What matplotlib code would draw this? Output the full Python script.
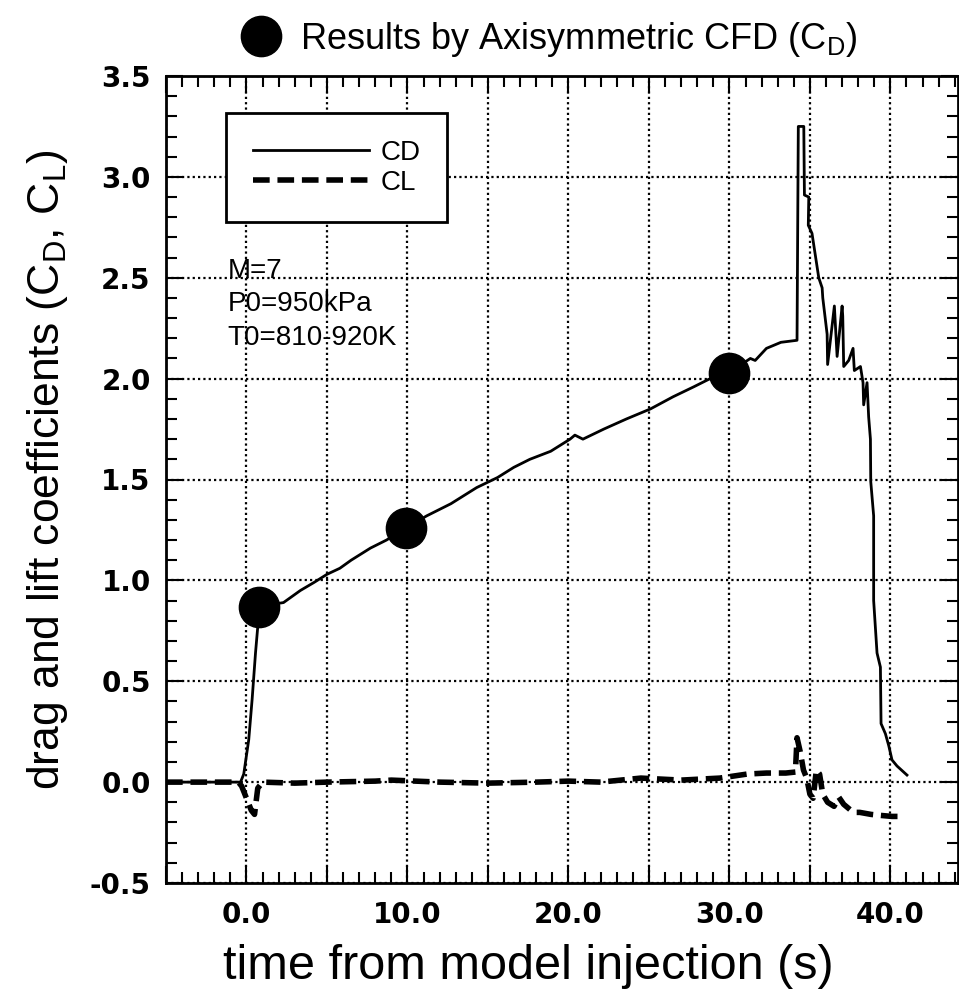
import matplotlib

matplotlib.use("Agg")
import matplotlib.pyplot as plt
import numpy as np
from matplotlib.lines import Line2D
from matplotlib.ticker import MultipleLocator

plt.rcParams["font.family"] = ["Liberation Sans", "DejaVu Sans"]
plt.rcParams["mathtext.fontset"] = "custom"
plt.rcParams["mathtext.rm"] = "Liberation Sans"
plt.rcParams["mathtext.it"] = "Liberation Sans:italic"

# drag coefficient trace (time s, CD)
cd_t = [-5.0, -0.37, -0.17, 0.14, 0.35, 0.56, 0.70, 0.75, 2.3, 3.35, 4.2, 5.0,
        5.8, 6.5, 7.7, 8.7, 9.9, 11.2, 12.7, 14.3, 15.6, 16.6, 17.6, 18.9, 20.1,
        20.4, 20.9, 22.2, 23.6, 25.1, 26.5, 27.8, 28.8, 30.0, 31.3, 31.6, 32.3,
        33.2, 34.2, 34.28, 34.62, 34.66, 34.93, 34.9, 35.13, 35.34, 35.55, 35.76,
        35.8, 36.07, 36.1, 36.52, 36.69, 37.0, 37.04, 37.1, 37.41, 37.68, 37.76,
        38.14, 38.3, 38.34, 38.55, 38.65, 38.76, 38.78, 38.96, 38.96, 39.17,
        39.38, 39.42, 39.69, 39.9, 40.1, 40.41, 41.03]
cd_v = [0.0, 0.0, 0.04, 0.21, 0.41, 0.64, 0.77, 0.87, 0.89, 0.95, 0.99, 1.03,
        1.06, 1.10, 1.16, 1.20, 1.26, 1.32, 1.38, 1.46, 1.51, 1.56, 1.60, 1.64,
        1.70, 1.72, 1.70, 1.75, 1.80, 1.85, 1.91, 1.96, 2.00, 2.03, 2.10, 2.09,
        2.15, 2.18, 2.19, 3.25, 3.25, 2.91, 2.90, 2.76, 2.72, 2.61, 2.50, 2.45,
        2.40, 2.22, 2.07, 2.36, 2.11, 2.36, 2.31, 2.06, 2.09, 2.15, 2.04, 2.06,
        1.98, 1.87, 1.98, 1.81, 1.70, 1.49, 1.32, 0.90, 0.64, 0.57, 0.29, 0.24,
        0.18, 0.11, 0.08, 0.035]

# lift coefficient trace (time s, CL)
cl_t = [-5.0, -0.5, -0.3, -0.1, 0.1, 0.3, 0.5, 0.7, 1.0, 3.0, 5.0, 8.0, 9.0,
        12.0, 15.0, 18.0, 20.0, 22.0, 24.5, 27.0, 29.4, 31.1, 32.3, 33.5, 34.1,
        34.2, 34.4, 34.6, 34.8, 35.0, 35.2, 35.4, 35.6, 35.8, 36.1, 36.5, 36.8,
        37.1, 37.7, 38.1, 38.8, 39.4, 40.1, 40.9]
cl_v = [0.0, 0.0, -0.02, -0.06, -0.10, -0.14, -0.16, -0.03, 0.0, -0.005, 0.0,
        0.005, 0.01, 0.0, -0.005, 0.0, 0.005, 0.0, 0.02, 0.01, 0.02, 0.04, 0.045,
        0.045, 0.05, 0.22, 0.15, 0.06, 0.02, -0.06, -0.08, 0.06, 0.04, -0.06,
        -0.10, -0.12, -0.075, -0.11, -0.15, -0.15, -0.16, -0.165, -0.17, -0.17]

# axisymmetric CFD results
cfd_t = [0.75, 9.9, 29.95]
cfd_cd = [0.87, 1.26, 2.03]

x_ticks = [-5, 0, 5, 10, 15, 20, 25, 30, 35, 40]
x_labels = ["", "0.0", "", "10.0", "", "20.0", "", "30.0", "", "40.0"]
y_ticks = [-0.5, 0.0, 0.5, 1.0, 1.5, 2.0, 2.5, 3.0, 3.5]
y_labels = ["-0.5", "0.0", "0.5", "1.0", "1.5", "2.0", "2.5", "3.0", "3.5"]

fig = plt.figure(figsize=(9.59, 10.01), dpi=100)
ax = fig.add_axes([166 / 959, 118 / 1001, 792 / 959, 807 / 1001])

ax.plot(cd_t, cd_v, color="black", lw=2, label="CD", zorder=3)
ax.plot(cl_t, cl_v, color="black", lw=4, dashes=(3, 1.4), label="CL", zorder=3)
ax.plot(cfd_t, cfd_cd, ls="none", marker="o", ms=29, color="black", zorder=4)

ax.set_xlim(-5, 44.2)
ax.set_ylim(-0.5, 3.5)
ax.set_xticks(x_ticks)
ax.set_xticklabels(x_labels, fontfamily="DejaVu Sans", fontweight="bold", fontsize=20)
ax.set_yticks(y_ticks)
ax.set_yticklabels(y_labels, fontfamily="DejaVu Sans", fontweight="bold", fontsize=20)
ax.xaxis.set_minor_locator(MultipleLocator(1))
ax.yaxis.set_minor_locator(MultipleLocator(0.1))
ax.tick_params(which="both", direction="in", top=True, right=True, width=1.5, color="black")
ax.tick_params(which="major", length=12)
ax.tick_params(which="minor", length=8)
ax.tick_params(axis="x", which="major", pad=13)
ax.tick_params(axis="y", which="major", pad=11)
for sp in ax.spines.values():
    sp.set_linewidth(2)
ax.grid(which="major", color="black", lw=1.6, dashes=(1, 1.4))

ax.set_xlabel("time from model injection (s)", fontsize=35)
ax.xaxis.set_label_coords(0.457, -0.075)
ax.set_ylabel("drag and lift coefficients (C$_\\mathrm{D}$, C$_\\mathrm{L}$)", fontsize=32)
ax.yaxis.set_label_coords(-0.121, 0.512)

leg = ax.legend(loc="upper left", bbox_to_anchor=(0.0759, 0.954), fontsize=20,
                handlelength=4.2, handletextpad=0.4, labelspacing=0.15, borderpad=0.95,
                borderaxespad=0, fancybox=False, edgecolor="black", framealpha=1)
leg.get_frame().set_linewidth(2)
leg.set_zorder(5)

ax.text(0.078, 0.775, "M=7\nP0=950kPa\nT0=810-920K", transform=ax.transAxes,
        fontsize=20, va="top", ha="left", linespacing=1.38, zorder=5)

fig.legend(handles=[Line2D([], [], ls="none", marker="o", ms=29, color="black")],
           labels=["Results by Axisymmetric CFD (C$_\\mathrm{D}$)"],
           loc="center left", bbox_to_anchor=(0.238, 0.961), fontsize=26,
           handlelength=1.0, handletextpad=0.6, frameon=False, borderaxespad=0)

fig.savefig("out.png", dpi=100)
